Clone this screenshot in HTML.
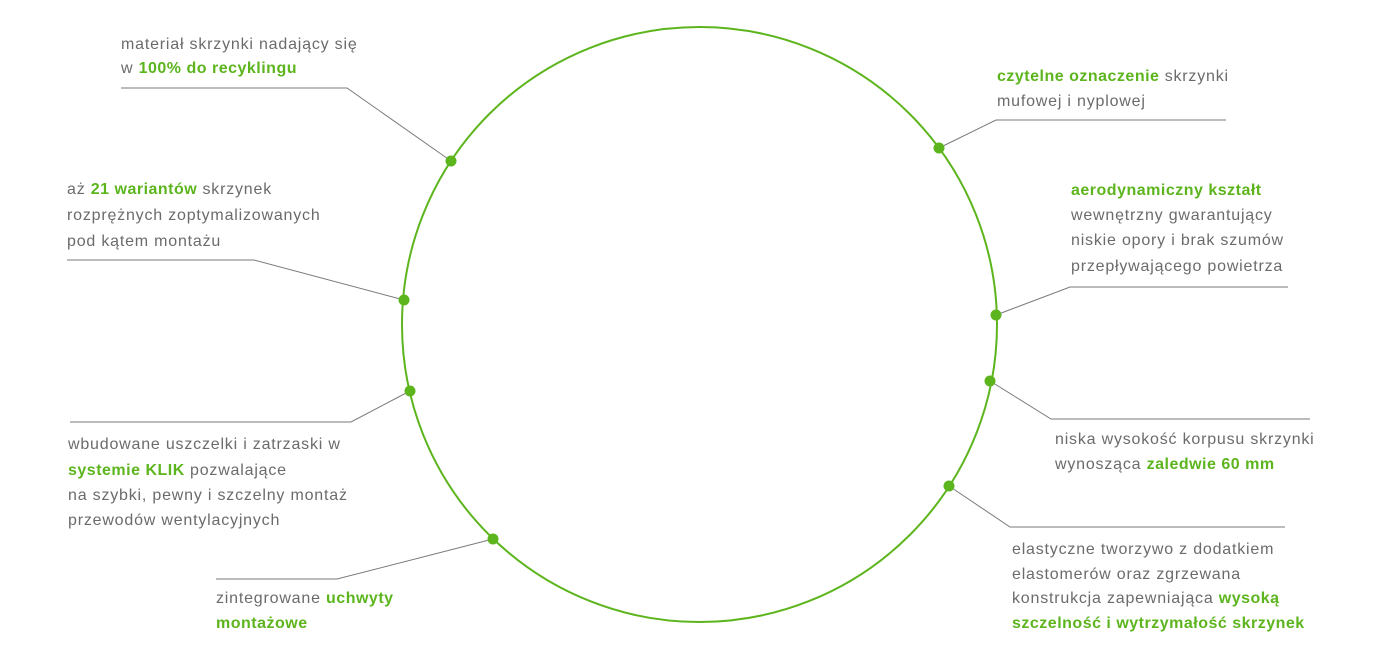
<!DOCTYPE html>
<html><head><meta charset="utf-8"><style>
html,body{margin:0;padding:0;background:#fff;}
svg{display:block}
text{font-family:"Liberation Sans",sans-serif;font-size:16px;letter-spacing:0.8px;fill:#6b6b6b;}
.g{fill:#5db51e;font-weight:bold;letter-spacing:0.5px;}
</style></head><body>
<svg width="1400" height="650" viewBox="0 0 1400 650">
<circle cx="699.5" cy="324.5" r="297.5" fill="none" stroke="#5db51e" stroke-width="2"/>
<g fill="none" stroke="#7a7a7a" stroke-width="1">
<polyline points="121,88 347,88 451,161"/>
<polyline points="67,260 254,260 404,300"/>
<polyline points="70,422 351,422 410,391"/>
<polyline points="216,579 337,579 493,539"/>
<polyline points="1226,120 996,120 939,148"/>
<polyline points="1288,287 1070,287 996,315"/>
<polyline points="1310,419 1051,419 990,381"/>
<polyline points="1285,527 1010,527 949,486"/>
</g>
<g fill="#5db51e">
<circle cx="451" cy="161" r="5.5"/><circle cx="404" cy="300" r="5.5"/>
<circle cx="410" cy="391" r="5.5"/><circle cx="493" cy="539" r="5.5"/>
<circle cx="939" cy="148" r="5.5"/><circle cx="996" cy="315" r="5.5"/>
<circle cx="990" cy="381" r="5.5"/><circle cx="949" cy="486" r="5.5"/>
</g>
<text x="121" y="49">materiał skrzynki nadający się</text>
<text x="121" y="73">w <tspan class="g">100% do recyklingu</tspan></text>
<text x="67" y="194">aż <tspan class="g">21 wariantów</tspan> skrzynek</text>
<text x="67" y="220">rozprężnych  zoptymalizowanych</text>
<text x="67" y="246">pod kątem montażu</text>
<text x="68" y="449">wbudowane uszczelki i zatrzaski w</text>
<text x="68" y="475"><tspan class="g">systemie KLIK</tspan> pozwalające</text>
<text x="68" y="500">na szybki, pewny i szczelny montaż</text>
<text x="68" y="525">przewodów wentylacyjnych</text>
<text x="216" y="603">zintegrowane <tspan class="g">uchwyty</tspan></text>
<text x="216" y="628" class="g">montażowe</text>
<text x="997" y="81"><tspan class="g">czytelne oznaczenie</tspan> skrzynki</text>
<text x="997" y="106">mufowej i nyplowej</text>
<text x="1071" y="195" class="g">aerodynamiczny kształt</text>
<text x="1071" y="220">wewnętrzny gwarantujący</text>
<text x="1071" y="245">niskie opory i brak szumów</text>
<text x="1071" y="271">przepływającego powietrza</text>
<text x="1055" y="444">niska wysokość korpusu skrzynki</text>
<text x="1055" y="469">wynosząca <tspan class="g">zaledwie 60 mm</tspan></text>
<text x="1012" y="554">elastyczne tworzywo z dodatkiem</text>
<text x="1012" y="579">elastomerów oraz zgrzewana</text>
<text x="1012" y="603">konstrukcja zapewniająca <tspan class="g">wysoką</tspan></text>
<text x="1012" y="628" class="g">szczelność i wytrzymałość skrzynek</text>
</svg>
</body></html>
